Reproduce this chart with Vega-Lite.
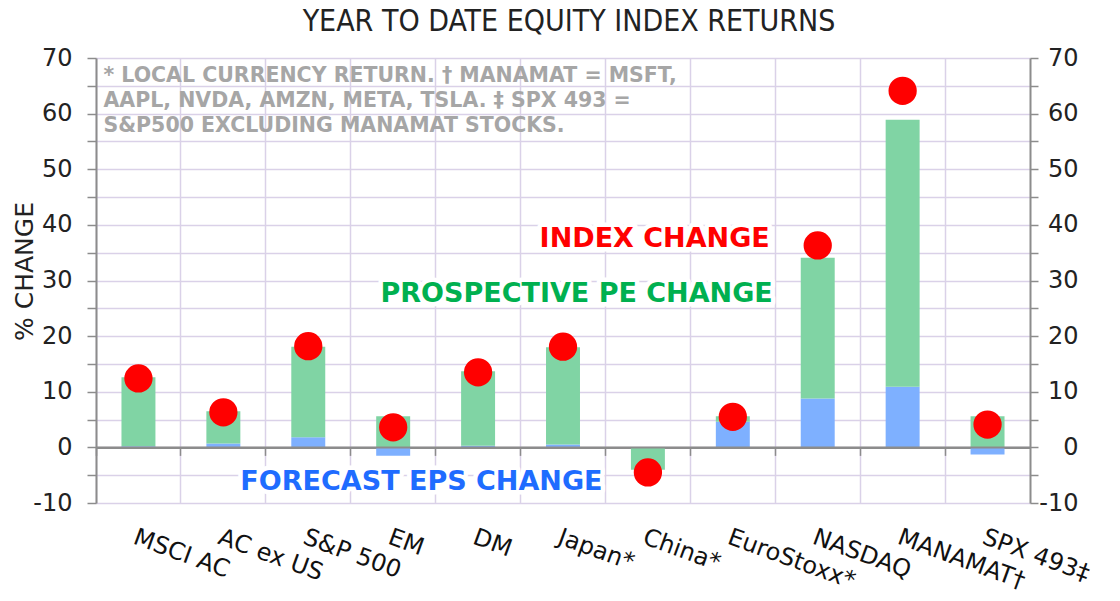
{
  "$schema": "https://vega.github.io/schema/vega-lite/v6.json",
  "width": 934,
  "height": 445,
  "autosize": {"type": "none"},
  "padding": {"left": 96, "top": 58, "right": 90, "bottom": 98},
  "background": "white",
  "config": {"view": {"stroke": null}, "font": "DejaVu Sans"},
  "title": {"text": "YEAR TO DATE EQUITY INDEX RETURNS", "font": "DejaVu Sans Condensed", "fontSize": 30, "fontWeight": "normal", "color": "#222222", "anchor": "middle", "baseline": "alphabetic", "offset": -15, "dx": 6},
  "datasets": {
    "bars": [
      {"cat": "MSCI AC", "series": "EPS", "value": 0.2},
      {"cat": "MSCI AC", "series": "PE", "value": 12.4},
      {"cat": "AC ex US", "series": "EPS", "value": 0.7},
      {"cat": "AC ex US", "series": "PE", "value": 5.8},
      {"cat": "S&P 500", "series": "EPS", "value": 1.8},
      {"cat": "S&P 500", "series": "PE", "value": 16.3},
      {"cat": "EM", "series": "EPS", "value": -1.5},
      {"cat": "EM", "series": "PE", "value": 5.6},
      {"cat": "DM", "series": "EPS", "value": 0.3},
      {"cat": "DM", "series": "PE", "value": 13.4},
      {"cat": "Japan*", "series": "EPS", "value": 0.5},
      {"cat": "Japan*", "series": "PE", "value": 17.5},
      {"cat": "China*", "series": "EPS", "value": 0},
      {"cat": "China*", "series": "PE", "value": -4.0},
      {"cat": "EuroStoxx*", "series": "EPS", "value": 4.6},
      {"cat": "EuroStoxx*", "series": "PE", "value": 1.0},
      {"cat": "NASDAQ", "series": "EPS", "value": 8.8},
      {"cat": "NASDAQ", "series": "PE", "value": 25.3},
      {"cat": "MANAMAT†", "series": "EPS", "value": 10.9},
      {"cat": "MANAMAT†", "series": "PE", "value": 48.0},
      {"cat": "SPX 493‡", "series": "EPS", "value": -1.3},
      {"cat": "SPX 493‡", "series": "PE", "value": 5.6}
    ],
    "points": [
      {"cat": "MSCI AC", "index": 12.4},
      {"cat": "AC ex US", "index": 6.3},
      {"cat": "S&P 500", "index": 18.2},
      {"cat": "EM", "index": 3.6},
      {"cat": "DM", "index": 13.5},
      {"cat": "Japan*", "index": 18.1},
      {"cat": "China*", "index": -4.5},
      {"cat": "EuroStoxx*", "index": 5.5},
      {"cat": "NASDAQ", "index": 36.3},
      {"cat": "MANAMAT†", "index": 64.1},
      {"cat": "SPX 493‡", "index": 4.1}
    ]
  },
  "resolve": {"axis": {"x": "independent", "y": "independent"}, "scale": {"x": "shared", "y": "shared"}},
  "layer": [
    {
      "data": {"name": "bars"},
      "mark": {"type": "bar", "width": {"band": 0.4}},
      "encoding": {
        "x": {"field": "cat", "type": "nominal", "sort": ["MSCI AC", "AC ex US", "S&P 500", "EM", "DM", "Japan*", "China*", "EuroStoxx*", "NASDAQ", "MANAMAT†", "SPX 493‡"],
          "scale": {"paddingInner": 0, "paddingOuter": 0},
          "axis": {"orient": "bottom", "title": null, "ticks": false, "domain": false, "grid": false, "labelAngle": 20, "labelAlign": "left", "labelBaseline": "top", "labelPadding": 22, "labelFont": "DejaVu Sans", "labelFontSize": 24, "labelColor": "#111111", "labelOverlap": false, "labelBound": false, "labelLimit": 400}},
        "y": {"field": "value", "type": "quantitative", "stack": "zero",
          "scale": {"domain": [-10, 70], "nice": false, "zero": false},
          "axis": {"orient": "left", "values": [-10, -5, 0, 5, 10, 15, 20, 25, 30, 35, 40, 45, 50, 55, 60, 65, 70],
            "labelExpr": "datum.value % 10 === 0 ? '' + datum.value : ''", "labelOverlap": false, "labelFlush": false,
            "grid": true, "gridColor": "#dad1e8", "gridWidth": 1.5,
            "domainColor": "#8c8c8c", "domainWidth": 2, "tickColor": "#8c8c8c", "tickWidth": 1.5, "tickSize": 9,
            "labelFont": "DejaVu Sans", "labelFontSize": 24, "labelColor": "#222222", "labelPadding": 15,
            "title": "% CHANGE", "titleFont": "DejaVu Sans", "titleFontSize": 25, "titleFontWeight": "normal", "titleColor": "#222222",
            "titleAngle": -90, "titleX": -72, "titleY": 213, "titleAlign": "center", "titleBaseline": "middle"}},
        "color": {"field": "series", "type": "nominal", "scale": {"domain": ["EPS", "PE"], "range": ["#7eb0ff", "#80d4a4"]}, "legend": null},
        "order": {"field": "series", "sort": "ascending"}
      }
    },
    {
      "data": {"values": [{}]},
      "mark": {"type": "rule", "color": "#8c8c8c", "strokeWidth": 2},
      "encoding": {
        "y": {"datum": 0, "type": "quantitative", "axis": null}
      }
    },
    {
      "data": {"name": "points"},
      "mark": {"type": "circle", "size": 800, "opacity": 1, "color": "#ff0000"},
      "encoding": {
        "x": {"field": "cat", "type": "nominal", "sort": ["MSCI AC", "AC ex US", "S&P 500", "EM", "DM", "Japan*", "China*", "EuroStoxx*", "NASDAQ", "MANAMAT†", "SPX 493‡"],
          "axis": {"orient": "bottom", "offset": -55.625, "labels": false, "title": null, "ticks": true, "tickSize": 8, "tickColor": "#8c8c8c", "tickWidth": 1.5,
            "domain": true, "domainColor": "#8c8c8c", "domainWidth": 2, "bandPosition": 0, "grid": true, "gridColor": "#dad1e8", "gridWidth": 1.5, "zindex": 0}},
        "y": {"field": "index", "type": "quantitative",
          "axis": {"orient": "right", "values": [-10, -5, 0, 5, 10, 15, 20, 25, 30, 35, 40, 45, 50, 55, 60, 65, 70],
            "labelExpr": "datum.value % 10 === 0 ? '' + datum.value : ''", "labelOverlap": false, "labelFlush": false,
            "grid": false, "domainColor": "#8c8c8c", "domainWidth": 2, "tickColor": "#8c8c8c", "tickWidth": 1.5, "tickSize": 8,
            "labelFont": "DejaVu Sans", "labelFontSize": 24, "labelColor": "#222222", "labelAlign": "right", "labelPadding": 40, "title": null}}
      }
    },
    {
      "data": {"values": [{}]},
      "mark": {"type": "text", "align": "left", "baseline": "top", "font": "DejaVu Sans", "fontSize": 20.5, "fontWeight": "bold", "color": "#a6a6a6", "lineBreak": "\n", "lineHeight": 25, "dx": -35,
        "text": "* LOCAL CURRENCY RETURN. † MANAMAT = MSFT,\nAAPL, NVDA, AMZN, META, TSLA.  ‡ SPX 493 =\nS&P500 EXCLUDING MANAMAT STOCKS."},
      "encoding": {
        "x": {"datum": "MSCI AC", "type": "nominal", "axis": null},
        "y": {"datum": 68.6, "type": "quantitative", "axis": null}
      }
    },
    {
      "data": {"values": [{}]},
      "mark": {"type": "text", "align": "right", "baseline": "middle", "font": "DejaVu Sans", "fontSize": 27, "fontWeight": "bold", "fill": "white", "stroke": "white", "strokeWidth": 9, "strokeJoin": "round", "dx": 37, "text": "INDEX CHANGE"},
      "encoding": {
        "x": {"datum": "EuroStoxx*", "type": "nominal", "axis": null},
        "y": {"datum": 37.4, "type": "quantitative", "axis": null}
      }
    },
    {
      "data": {"values": [{}]},
      "mark": {"type": "text", "align": "right", "baseline": "middle", "font": "DejaVu Sans", "fontSize": 27, "fontWeight": "bold", "fill": "white", "stroke": "white", "strokeWidth": 9, "strokeJoin": "round", "dx": 40, "text": "PROSPECTIVE PE CHANGE"},
      "encoding": {
        "x": {"datum": "EuroStoxx*", "type": "nominal", "axis": null},
        "y": {"datum": 27.5, "type": "quantitative", "axis": null}
      }
    },
    {
      "data": {"values": [{}]},
      "mark": {"type": "text", "align": "left", "baseline": "middle", "font": "DejaVu Sans", "fontSize": 27, "fontWeight": "bold", "fill": "white", "stroke": "white", "strokeWidth": 9, "strokeJoin": "round", "dx": 17, "text": "FORECAST EPS CHANGE"},
      "encoding": {
        "x": {"datum": "AC ex US", "type": "nominal", "axis": null},
        "y": {"datum": -6.2, "type": "quantitative", "axis": null}
      }
    },
    {
      "data": {"values": [{}]},
      "mark": {"type": "text", "align": "right", "baseline": "middle", "font": "DejaVu Sans", "fontSize": 27, "fontWeight": "bold", "color": "#ff0000", "dx": 37, "text": "INDEX CHANGE"},
      "encoding": {
        "x": {"datum": "EuroStoxx*", "type": "nominal", "axis": null},
        "y": {"datum": 37.4, "type": "quantitative", "axis": null}
      }
    },
    {
      "data": {"values": [{}]},
      "mark": {"type": "text", "align": "right", "baseline": "middle", "font": "DejaVu Sans", "fontSize": 27, "fontWeight": "bold", "color": "#00b050", "dx": 40, "text": "PROSPECTIVE PE CHANGE"},
      "encoding": {
        "x": {"datum": "EuroStoxx*", "type": "nominal", "axis": null},
        "y": {"datum": 27.5, "type": "quantitative", "axis": null}
      }
    },
    {
      "data": {"values": [{}]},
      "mark": {"type": "text", "align": "left", "baseline": "middle", "font": "DejaVu Sans", "fontSize": 27, "fontWeight": "bold", "color": "#1f6cff", "dx": 17, "text": "FORECAST EPS CHANGE"},
      "encoding": {
        "x": {"datum": "AC ex US", "type": "nominal", "axis": null},
        "y": {"datum": -6.2, "type": "quantitative", "axis": null}
      }
    }
  ]
}
